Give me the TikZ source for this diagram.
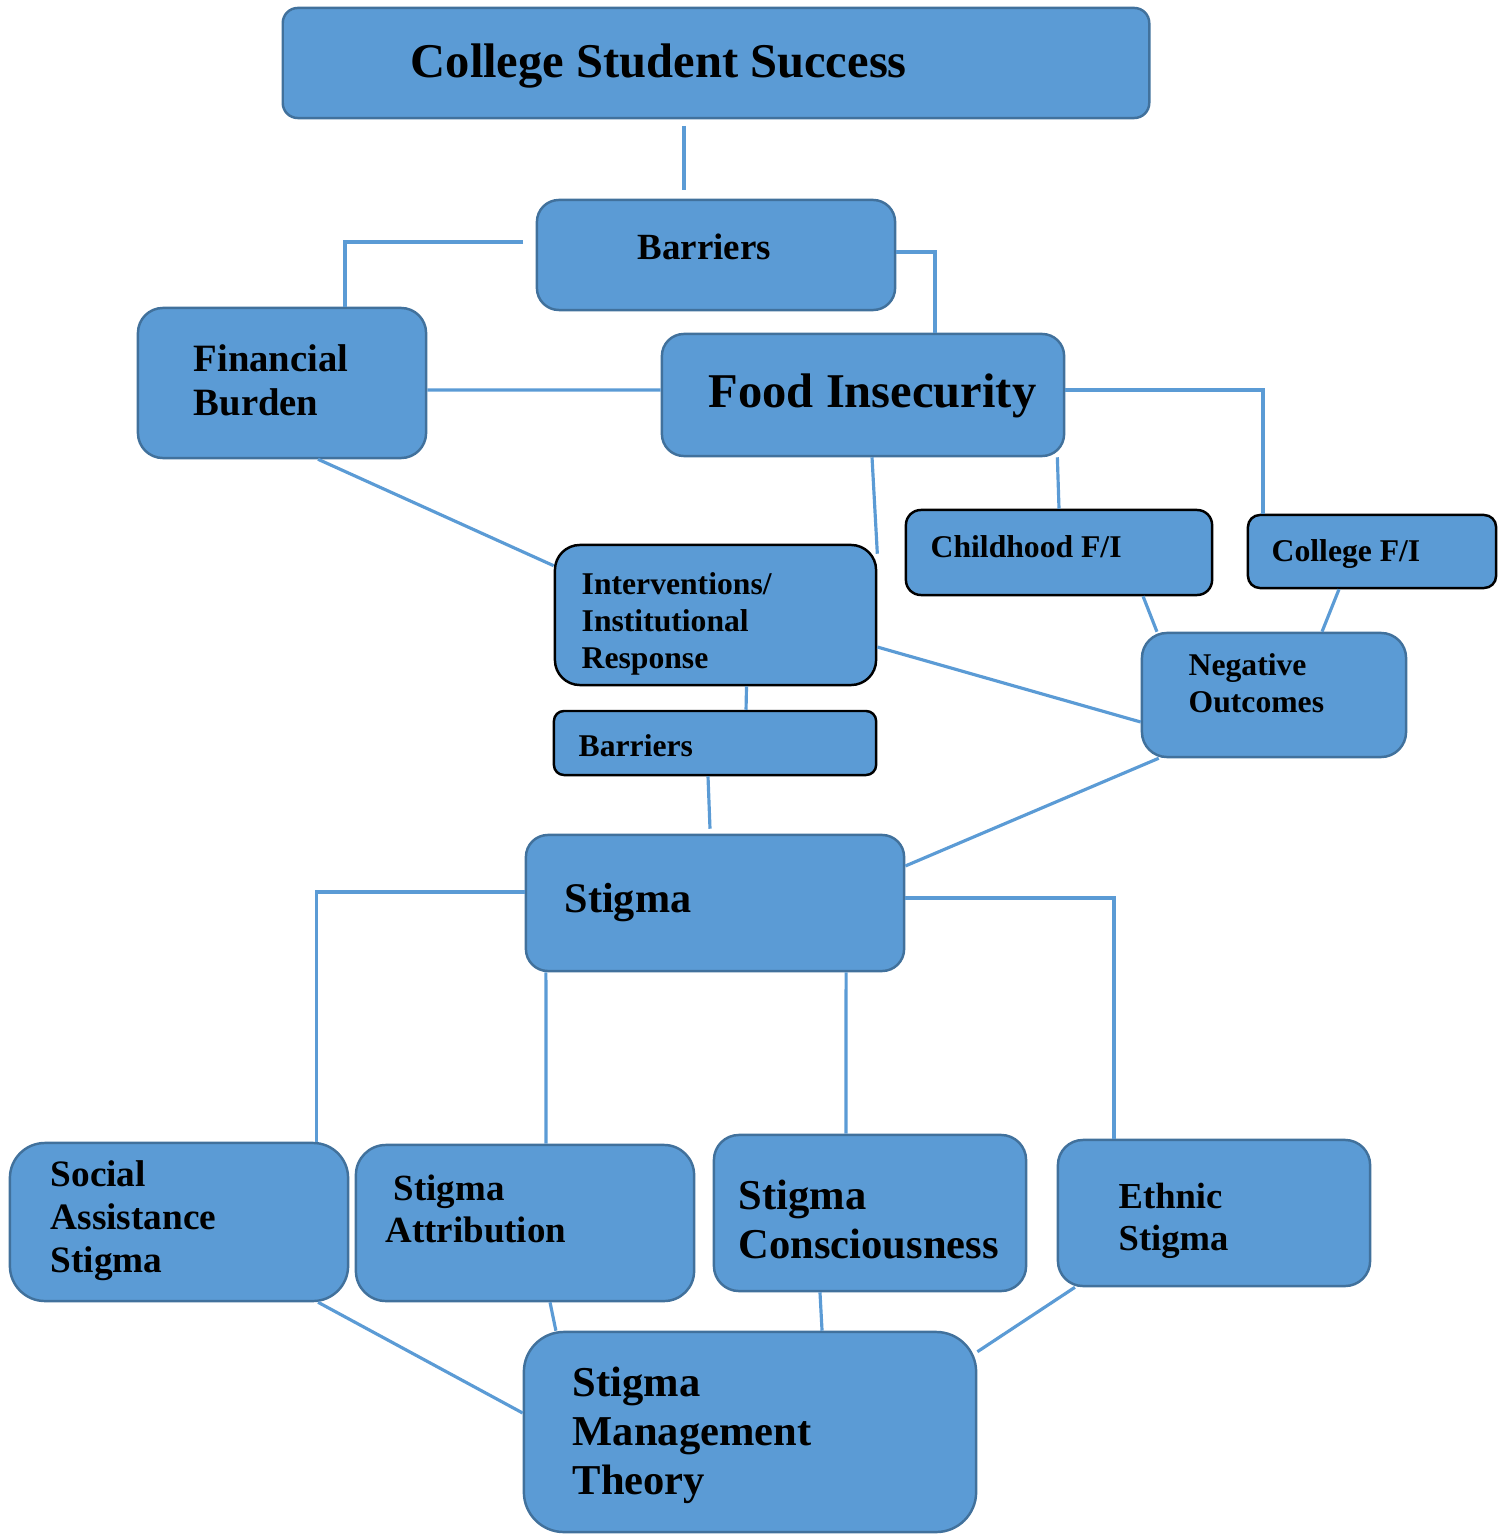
\documentclass[tikz,border=0pt]{standalone}
\usepackage{fontspec}
\setmainfont{Liberation Serif}
\definecolor{boxfill}{HTML}{5B9BD5}
\definecolor{boxedge}{HTML}{41719C}
\definecolor{linkblue}{HTML}{5B9BD5}
\newcommand{\fsz}[2]{\fontsize{#1}{#2}\selectfont\bfseries}
\begin{document}
\begin{tikzpicture}[x=0.01cm, y=-0.01cm,
    box/.style={draw=boxedge, line width=0.7pt, fill=boxfill, rounded corners=0.22cm, inner sep=0pt},
    boxk/.style={box, draw=black},
    link/.style={draw=linkblue, line width=0.9pt},
    lbl/.style={anchor=north west, inner sep=0pt, align=left, text=black}]
    \useasboundingbox (0,0) rectangle (1501,1534);

    % Boxes
    \node[box, rounded corners=0.15cm, minimum width=8.66cm, minimum height=1.10cm] (title) at (716,63) {};
    \node[box, minimum width=3.58cm, minimum height=1.10cm] (barA) at (716,255) {};
    \node[box, rounded corners=0.25cm, minimum width=2.88cm, minimum height=1.50cm] (finburden) at (282,383) {};
    \node[box, minimum width=4.02cm, minimum height=1.22cm] (foodinsec) at (863,395) {};
    \node[boxk, rounded corners=0.25cm, minimum width=3.21cm, minimum height=1.40cm] (interv) at (715.5,615) {};
    \node[boxk, rounded corners=0.15cm, minimum width=3.06cm, minimum height=0.85cm] (childfi) at (1059,552.5) {};
    \node[boxk, rounded corners=0.12cm, minimum width=2.48cm, minimum height=0.73cm] (collfi) at (1372,551.5) {};
    \node[box, rounded corners=0.25cm, minimum width=2.64cm, minimum height=1.24cm] (negout) at (1274,695) {};
    \node[boxk, rounded corners=0.1cm, minimum width=3.22cm, minimum height=0.64cm] (barB) at (715,743) {};
    \node[box, minimum width=3.78cm, minimum height=1.36cm] (stigma) at (715,903) {};
    \node[box, rounded corners=0.35cm, minimum width=3.38cm, minimum height=1.58cm] (socassist) at (179,1222) {};
    \node[box, rounded corners=0.3cm, minimum width=3.38cm, minimum height=1.56cm] (stigattr) at (525,1223) {};
    \node[box, rounded corners=0.25cm, minimum width=3.12cm, minimum height=1.56cm] (stigcons) at (870,1213) {};
    \node[box, rounded corners=0.25cm, minimum width=3.12cm, minimum height=1.46cm] (ethnic) at (1214,1213) {};
    \node[box, rounded corners=0.4cm, minimum width=4.52cm, minimum height=2.00cm] (smt) at (750,1432) {};

    % Labels
    \node[lbl, font=\fsz{13.8}{16}] (titletxt) at (410,43) {College Student Success};
    \node[lbl, font=\fsz{10.5}{12.5}] (barAtxt) at (637,233) {Barriers};
    \node[lbl, font=\fsz{11}{12.5}] (fintxt) at (193,344) {Financial\\Burden};
    \node[lbl, font=\fsz{13.8}{16}] (foodtxt) at (708,373) {Food Insecurity};
    \node[lbl, font=\fsz{9}{10.5}] (intervtxt) at (581,572) {Interventions/\\Institutional\\Response};
    \node[lbl, font=\fsz{9}{10.5}] (childtxt) at (930,535) {Childhood F/I};
    \node[lbl, font=\fsz{9}{10.5}] (colltxt) at (1271,539) {College F/I};
    \node[lbl, font=\fsz{9}{10.5}] (negtxt) at (1188,653) {Negative\\Outcomes};
    \node[lbl, font=\fsz{9}{10.5}] (barBtxt) at (578,734) {Barriers};
    \node[lbl, font=\fsz{12}{14}] (stigtxt) at (564,883) {Stigma};
    \node[lbl, font=\fsz{10.6}{12.2}] (soctxt) at (50,1160) {Social\\Assistance\\Stigma};
    \node[lbl, font=\fsz{10.5}{12}] (attrtxt) at (385,1174) {\hspace{0.08cm}Stigma\\Attribution};
    \node[lbl, font=\fsz{12.1}{14}] (constxt) at (738,1179) {Stigma\\Consciousness};
    \node[lbl, font=\fsz{10.4}{12.2}] (ethtxt) at (1118,1182) {Ethnic\\Stigma};
    \node[lbl, font=\fsz{12.1}{14}] (smttxt) at (572,1366) {Stigma\\Management\\Theory};

    % Connectors
    \coordinate (tdown) at (684,126);
    \coordinate (tup) at (684,190);
    \coordinate (bleft) at (523,242);
    \draw[link] (tdown) -- (tup);
    \draw[link] (bleft) -| ([xshift=0.63cm]finburden.north);
    \draw[link] ([yshift=0.03cm]barA.east) -| ([xshift=0.72cm]foodinsec.north);
    \draw[link] ([yshift=-0.07cm]finburden.east) -- ([yshift=0.05cm]foodinsec.west);
    \draw[link] ([xshift=0.36cm]finburden.south) -- ([yshift=-0.22cm]interv.north west);
    \draw[link] ([xshift=0.09cm]foodinsec.south) -- ([yshift=-0.1cm]interv.north east);
    \draw[link] ([xshift=-0.08cm]foodinsec.south east) -- (childfi.north);
    \draw[link] ([yshift=0.05cm]foodinsec.east) -| ([xshift=-1.09cm]collfi.north);
    \draw[link] ([xshift=0.84cm]childfi.south) -- ([xshift=-1.17cm]negout.north);
    \draw[link] ([xshift=-0.33cm]collfi.south) -- ([xshift=0.48cm]negout.north);
    \draw[link] ([yshift=-0.32cm]interv.east) -- ([yshift=-0.27cm]negout.west);
    \draw[link] ([xshift=0.31cm]interv.south) -- ([xshift=0.31cm]barB.north);
    \draw[link] ([xshift=-0.07cm]barB.south) -- ([xshift=-0.05cm, yshift=0.05cm]stigma.north);
    \draw[link] ([xshift=0.18cm]negout.south west) -- ([yshift=0.37cm]stigma.east);
    \draw[link] ([yshift=0.11cm]stigma.west) -| ([xshift=1.37cm]socassist.north);
    \draw[link] ([xshift=-1.69cm]stigma.south) -- ([xshift=0.21cm]stigattr.north);
    \draw[link] ([xshift=1.31cm]stigma.south) -- ([xshift=-0.24cm]stigcons.north);
    \draw[link] ([yshift=0.05cm]stigma.east) -| ([xshift=-1.0cm]ethnic.north);
    \draw[link] ([xshift=1.39cm]socassist.south) -- ([yshift=0.19cm]smt.west);
    \draw[link] ([xshift=0.25cm]stigattr.south) -- ([xshift=-1.94cm]smt.north);
    \draw[link] ([xshift=-0.5cm]stigcons.south) -- ([xshift=0.72cm]smt.north);
    \draw[link] ([xshift=-1.39cm]ethnic.south) -- ([yshift=-0.21cm]smt.north east);
\end{tikzpicture}
\end{document}
